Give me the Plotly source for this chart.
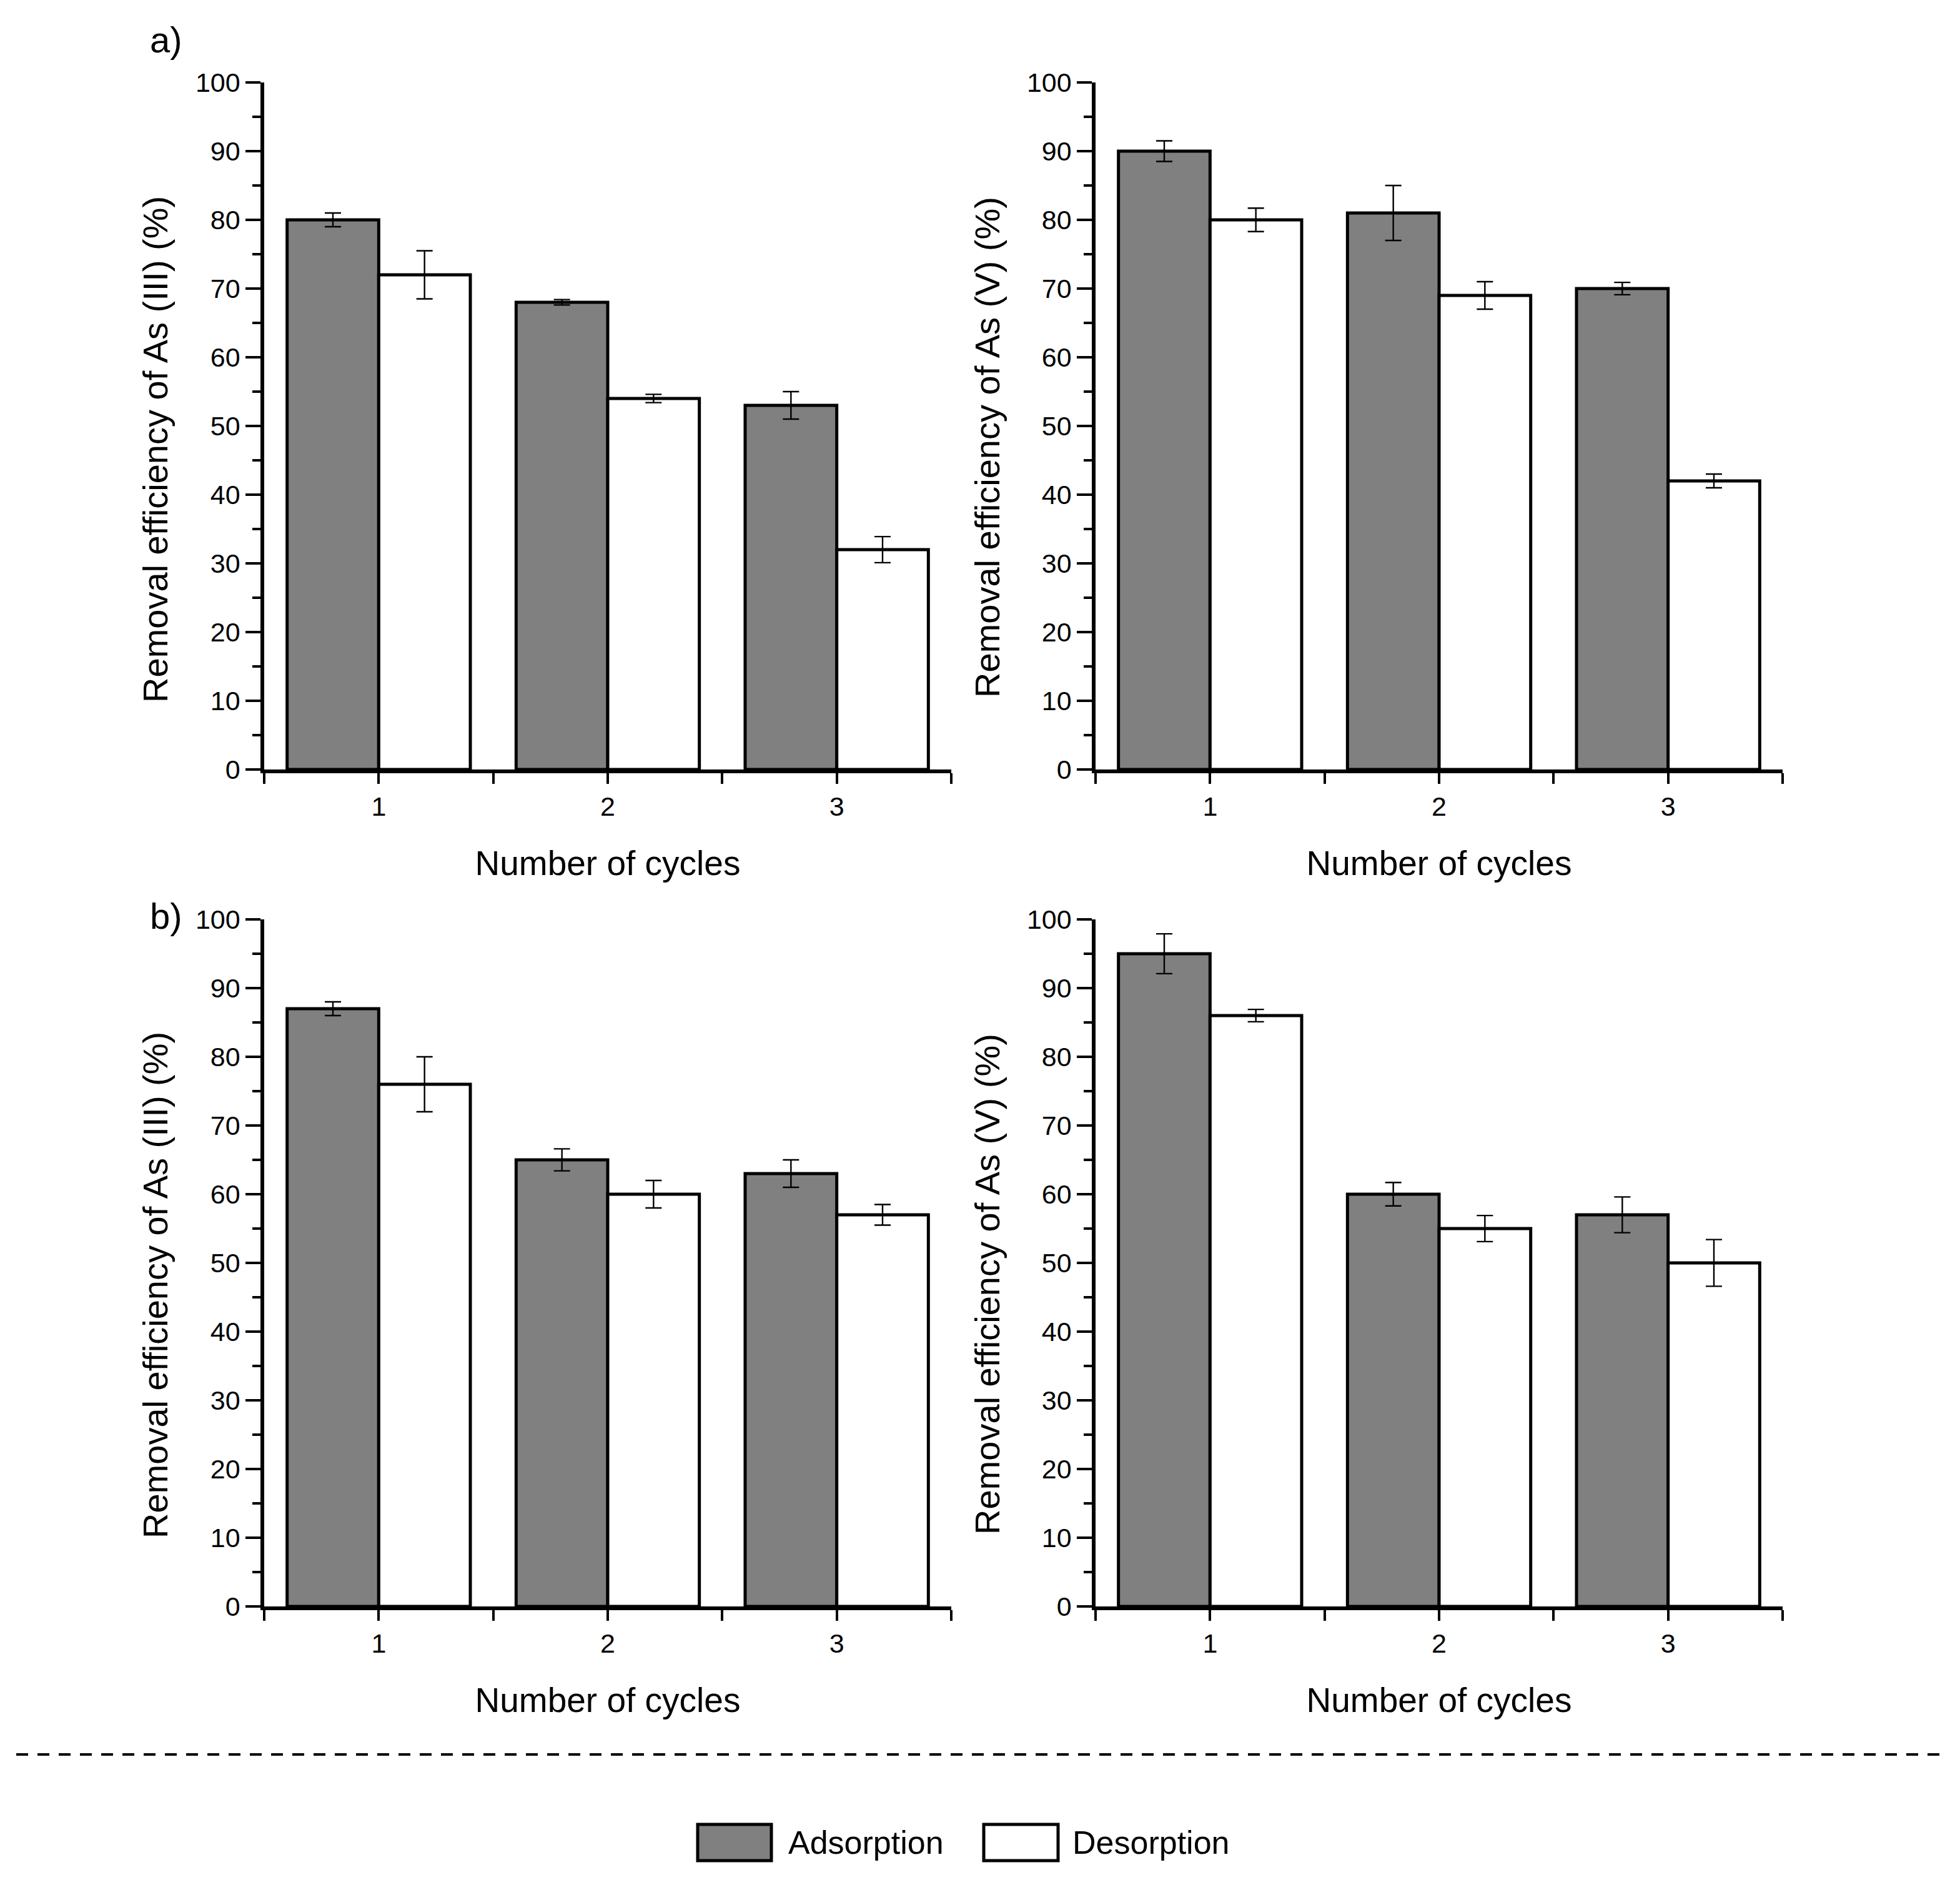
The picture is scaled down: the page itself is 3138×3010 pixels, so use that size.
import plotly.graph_objects as go

# ---- data ----
cycles = [1, 2, 3]
tick_labels = ["1", "2", "3"]

# a) left: As(III)
a3_ads = [80, 68, 53]
a3_ads_err = [1.0, 0.4, 2.0]
a3_des = [72, 54, 32]
a3_des_err = [3.5, 0.6, 1.9]

# a) right: As(V)
a5_ads = [90, 81, 70]
a5_ads_err = [1.5, 4.0, 0.9]
a5_des = [80, 69, 42]
a5_des_err = [1.7, 2.0, 1.0]

# b) left: As(III)
b3_ads = [87, 65, 63]
b3_ads_err = [1.0, 1.6, 2.0]
b3_des = [76, 60, 57]
b3_des_err = [4.0, 2.0, 1.5]

# b) right: As(V)
b5_ads = [95, 60, 57]
b5_ads_err = [2.9, 1.7, 2.6]
b5_des = [86, 55, 50]
b5_des_err = [0.9, 1.9, 3.4]

series_names = ["Adsorption", "Desorption"]
y_title_III = "Removal efficiency of As (III) (%)"
y_title_V = "Removal efficiency of As (V) (%)"
x_title = "Number of cycles"

W, H = 3138, 3010
FONT = "Liberation Sans, Arial, sans-serif"
GRAY = "#808080"


def px_x(x):
    return x / W


def px_y(y):
    return 1 - y / H


panels = [
    # (axis suffix, ads, ads_err, des, des_err, ytitle, x-domain px, y-domain px, ytitle pos px)
    ("", a3_ads, a3_ads_err, a3_des, a3_des_err, y_title_III, (423, 1523), (132, 1232), (248, 720)),
    ("2", a5_ads, a5_ads_err, a5_des, a5_des_err, y_title_V, (1754, 2854), (132, 1232), (1580, 716)),
    ("3", b3_ads, b3_ads_err, b3_des, b3_des_err, y_title_III, (423, 1523), (1472, 2572), (248, 2058)),
    ("4", b5_ads, b5_ads_err, b5_des, b5_des_err, y_title_V, (1754, 2854), (1472, 2572), (1580, 2056)),
]

fig = go.Figure()
layout_axes = {}
annotations = []

for suffix, ads, ads_err, des, des_err, ytitle, xdom, ydom, tpos in panels:
    for name, vals, errs, fill in [
        (series_names[0], ads, ads_err, GRAY),
        (series_names[1], des, des_err, "white"),
    ]:
        fig.add_trace(go.Bar(
            x=cycles, y=vals, name=name,
            marker=dict(color=fill, line=dict(color="black", width=5)),
            error_y=dict(type="data", array=errs, color="black",
                         thickness=2.4, width=13),
            xaxis="x" + suffix, yaxis="y" + suffix,
            offsetgroup=name, showlegend=False,
        ))

    layout_axes["xaxis" + suffix] = dict(
        domain=[px_x(xdom[0]), px_x(xdom[1])],
        anchor="y" + suffix,
        range=[0.5, 3.5],
        tickmode="array", tickvals=cycles, ticktext=tick_labels,
        ticks="outside", ticklen=17, tickwidth=4, tickcolor="black",
        minor=dict(tickmode="array", tickvals=[0.5, 1.5, 2.5, 3.5],
                   ticks="outside", ticklen=17, tickwidth=4, tickcolor="black"),
        showline=True, linewidth=5.5, linecolor="black",
        showgrid=False, zeroline=False, automargin=False,
        tickfont=dict(family=FONT, size=43, color="black"),
        title=dict(text=x_title, standoff=50,
                   font=dict(family=FONT, size=55, color="black")),
        fixedrange=True,
    )
    layout_axes["yaxis" + suffix] = dict(
        domain=[px_y(ydom[1]), px_y(ydom[0])],
        anchor="x" + suffix,
        range=[0, 100],
        tickmode="linear", tick0=0, dtick=10,
        ticks="outside", ticklen=24, tickwidth=4, tickcolor="black",
        minor=dict(tickmode="linear", tick0=0, dtick=5,
                   ticks="outside", ticklen=13, tickwidth=4, tickcolor="black"),
        showline=True, linewidth=5.5, linecolor="black",
        showgrid=False, zeroline=False, automargin=False,
        tickfont=dict(family=FONT, size=43, color="black"),
        fixedrange=True,
    )
    # y title placed a little below the axis centre, as in the original
    annotations.append(dict(
        text=ytitle, x=px_x(tpos[0]), y=px_y(tpos[1]),
        xref="paper", yref="paper", xanchor="center", yanchor="middle",
        textangle=-90, showarrow=False,
        font=dict(family=FONT, size=56, color="black"),
    ))

# panel letters
annotations += [
    dict(text="a)", x=px_x(266), y=px_y(64), xref="paper", yref="paper",
         xanchor="center", yanchor="middle",
         showarrow=False, font=dict(family=FONT, size=58, color="black")),
    dict(text="b)", x=px_x(266), y=px_y(1466), xref="paper", yref="paper",
         xanchor="center", yanchor="middle",
         showarrow=False, font=dict(family=FONT, size=58, color="black")),
]

# legend drawn by hand (large swatches as in the original)
shapes = [
    dict(type="line", xref="paper", yref="paper",
         x0=px_x(26), x1=px_x(3112), y0=px_y(2809), y1=px_y(2809),
         line=dict(color="black", width=4, dash="19px,15px")),
]
legend_items = [
    (series_names[0], GRAY, 1117, 1235, 1260),
    (series_names[1], "white", 1575, 1694, 1715),
]
for name, fill, bx0, bx1, tx in legend_items:
    shapes.append(dict(type="rect", xref="paper", yref="paper",
                       x0=px_x(bx0), x1=px_x(bx1), y0=px_y(2979), y1=px_y(2921),
                       fillcolor=fill, line=dict(color="black", width=5)))
    annotations.append(dict(text=name, x=px_x(tx), y=px_y(2950),
                            xref="paper", yref="paper", xanchor="left",
                            yanchor="middle", showarrow=False,
                            font=dict(family=FONT, size=52, color="black")))

fig.update_layout(
    width=W, height=H,
    margin=dict(l=0, r=0, t=0, b=0, pad=0, autoexpand=False),
    paper_bgcolor="white", plot_bgcolor="white",
    barmode="group", bargap=0.2, bargroupgap=0,
    showlegend=False,
    annotations=annotations,
    shapes=shapes,
    font=dict(family=FONT, color="black"),
    **layout_axes,
)

fig.write_html("out.html", config={"displayModeBar": False},
               post_script="document.body.style.margin='0';")
